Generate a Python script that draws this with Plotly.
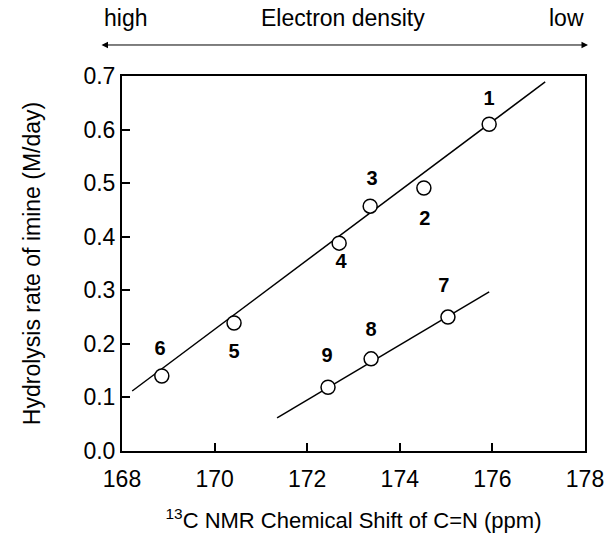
import plotly.graph_objects as go

# data
shift_a = [175.93, 174.52, 173.36, 172.69, 170.42, 168.86]
rate_a = [0.610, 0.491, 0.457, 0.388, 0.239, 0.140]
labels_a = ["1", "2", "3", "4", "5", "6"]
shift_b = [175.04, 173.38, 172.45]
rate_b = [0.250, 0.172, 0.119]
labels_b = ["7", "8", "9"]
fit_a_x = [168.22, 177.14]
fit_a_y = [0.112, 0.689]
fit_b_x = [171.35, 175.93]
fit_b_y = [0.062, 0.297]
label_x = [175.93, 174.54, 173.40, 172.73, 170.42, 168.82, 174.95, 173.38, 172.43]
label_y = [0.655, 0.431, 0.506, 0.351, 0.183, 0.189, 0.306, 0.224, 0.175]
label_text = labels_a + labels_b
x_ticks = [168, 170, 172, 174, 176, 178]
y_ticks = [0.0, 0.1, 0.2, 0.3, 0.4, 0.5, 0.6, 0.7]
top_texts = ["high", "Electron density", "low"]

FONT = "Liberation Sans, Arial, sans-serif"
fig = go.Figure()
for fx, fy in [(fit_a_x, fit_a_y), (fit_b_x, fit_b_y)]:
    fig.add_trace(go.Scatter(x=fx, y=fy, mode="lines",
                             line=dict(color="black", width=1.5),
                             showlegend=False, hoverinfo="skip"))
fig.add_trace(go.Scatter(x=shift_a + shift_b, y=rate_a + rate_b, mode="markers",
                         marker=dict(symbol="circle", size=14, color="white",
                                     line=dict(color="black", width=1.5)),
                         showlegend=False))
fig.add_trace(go.Scatter(x=label_x, y=label_y, mode="text", text=label_text,
                         textfont=dict(family=FONT, size=20, color="black", weight="bold"),
                         showlegend=False, hoverinfo="skip"))

# double-headed arrow above the plot
fig.add_annotation(x=1.0065, y=1.0827, xref="paper", yref="paper",
                   ax=-488, ay=0, axref="pixel", ayref="pixel", text="",
                   showarrow=True, arrowhead=2, arrowside="end+start",
                   arrowsize=1.3, arrowwidth=1, arrowcolor="black")
for txt, xp in zip(top_texts, [0.0065, 0.477, 0.959]):
    fig.add_annotation(x=xp, y=1.155, xref="paper", yref="paper", text=txt,
                       showarrow=False, xanchor="center", yanchor="middle",
                       font=dict(family=FONT, size=23, color="black"))

fig.update_xaxes(range=[168, 178], tickvals=x_ticks, ticktext=[str(v) for v in x_ticks],
                 ticks="inside", ticklen=8, tickwidth=1.5, tickcolor="black",
                 showline=True, linecolor="black", linewidth=2, mirror=True,
                 showgrid=False, zeroline=False, ticklabelstandoff=6,
                 tickfont=dict(family=FONT, size=23, color="black"),
                 title=dict(text="<sup>13</sup>C NMR Chemical Shift of C=N (ppm)",
                            font=dict(family=FONT, size=22, color="black"), standoff=22))
fig.update_yaxes(range=[0, 0.7], tickvals=y_ticks, ticktext=[f"{v:.1f}" for v in y_ticks],
                 ticks="inside", ticklen=8, tickwidth=1.5, tickcolor="black",
                 showline=True, linecolor="black", linewidth=2, mirror=True,
                 showgrid=False, zeroline=False,
                 tickfont=dict(family=FONT, size=23, color="black"),
                 title=dict(text="Hydrolysis rate of imine (M/day)",
                            font=dict(family=FONT, size=23, color="black"), standoff=36))
fig.update_layout(width=606, height=542,
                  margin=dict(l=122, r=21, t=76, b=91, autoexpand=False),
                  plot_bgcolor="white", paper_bgcolor="white")
fig.write_html("out.html", config={"displayModeBar": False},
               post_script="document.body.style.margin='0px';document.body.style.overflow='hidden';")
